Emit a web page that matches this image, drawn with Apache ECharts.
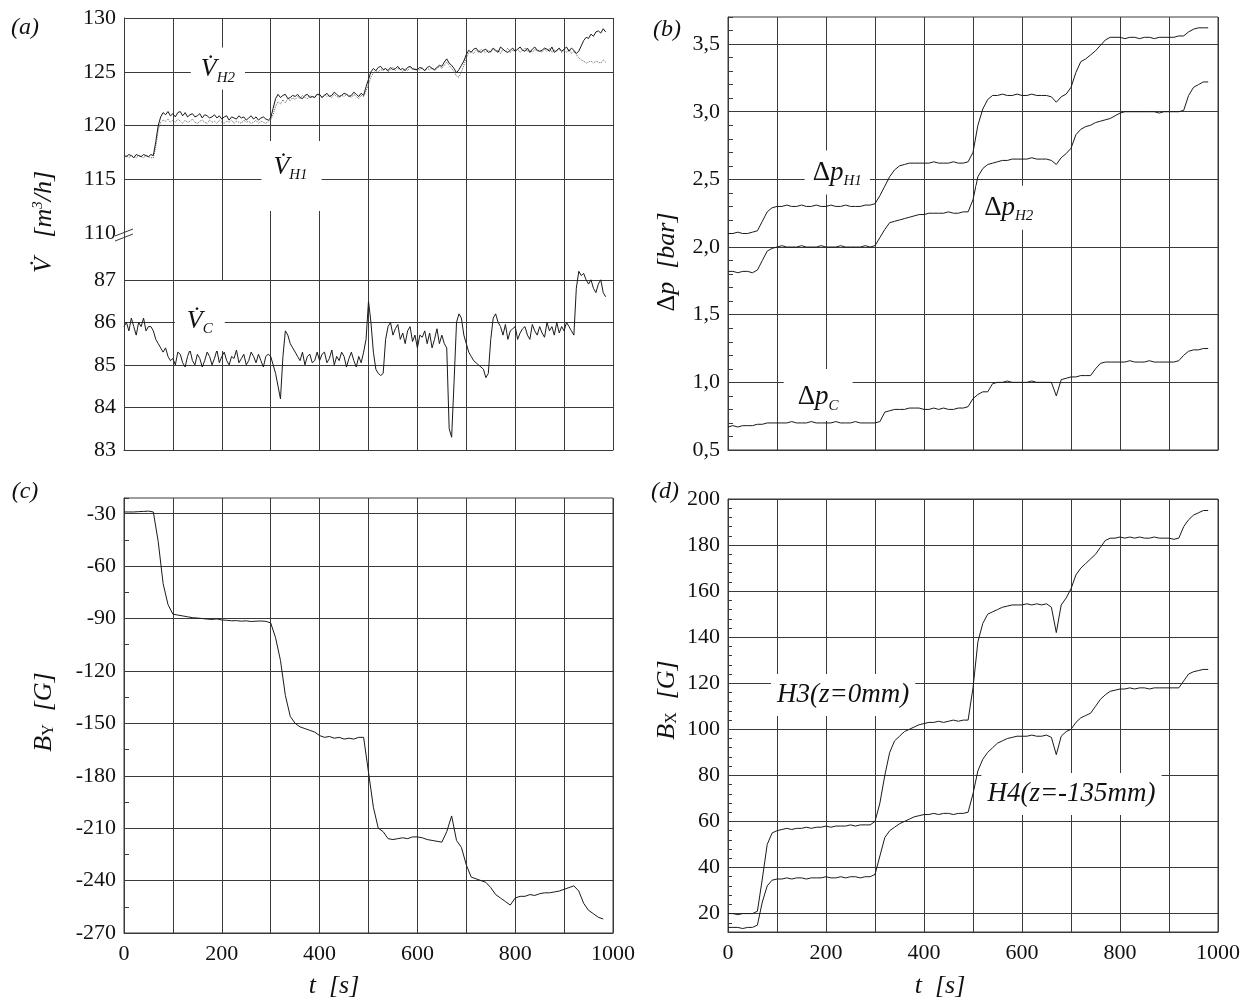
<!DOCTYPE html>
<html>
<head>
<meta charset="utf-8">
<script src="https://cdn.jsdelivr.net/npm/echarts@6/dist/echarts.min.js"></script>
<style>
  html, body { margin: 0; background: #fff; }
  #chart { width: 1255px; height: 1005px; }
</style>
</head>
<body>
<div id="chart"></div>
<script>
// sampling times [s]
const T5 = [
  0,5,10,15,20,25,30,35,40,45,50,55,60,65,70,75,80,85,90,95,
  100,105,110,115,120,125,130,135,140,145,150,155,160,165,170,175,180,185,190,195,
  200,205,210,215,220,225,230,235,240,245,250,255,260,265,270,275,280,285,290,295,
  300,305,310,315,320,325,330,335,340,345,350,355,360,365,370,375,380,385,390,395,
  400,405,410,415,420,425,430,435,440,445,450,455,460,465,470,475,480,485,490,495,
  500,505,510,515,520,525,530,535,540,545,550,555,560,565,570,575,580,585,590,595,
  600,605,610,615,620,625,630,635,640,645,650,655,660,665,670,675,680,685,690,695,
  700,705,710,715,720,725,730,735,740,745,750,755,760,765,770,775,780,785,790,795,
  800,805,810,815,820,825,830,835,840,845,850,855,860,865,870,875,880,885,890,895,
  900,905,910,915,920,925,930,935,940,945,950,955,960,965,970,975,980,985
]
const T10 = [
  0,10,20,30,40,50,60,70,80,90,
  100,110,120,130,140,150,160,170,180,190,
  200,210,220,230,240,250,260,270,280,290,
  300,310,320,330,340,350,360,370,380,390,
  400,410,420,430,440,450,460,470,480,490,
  500,510,520,530,540,550,560,570,580,590,
  600,610,620,630,640,650,660,670,680,690,
  700,710,720,730,740,750,760,770,780,790,
  800,810,820,830,840,850,860,870,880,890,
  900,910,920,930,940,950,960,970,980
]

// (a) volume flow [m3/h]
const flowH2 = [
  117.2,117.1,117.3,117.2,117.0,117.3,117.2,117.1,117.3,117.2,117.1,117.3,117.2,118.5,120.0,120.8,121.2,121.0,121.3,120.9,
  121.1,120.8,121.2,121.3,120.9,121.2,120.8,121.0,121.1,120.8,120.9,121.1,120.7,121.0,120.9,120.7,120.8,121.0,120.7,120.9,
  120.6,120.8,120.9,120.5,120.8,120.7,120.6,120.9,120.7,120.8,120.5,120.7,120.9,120.6,120.8,120.5,120.7,120.8,120.6,120.5,
  120.7,121.6,122.5,122.9,122.6,122.8,122.9,122.5,122.6,122.8,122.7,122.9,122.6,122.5,122.8,122.9,122.6,122.7,122.6,122.9,
  122.9,122.6,122.8,123.0,122.7,122.8,123.1,122.9,122.7,122.8,123.0,122.9,122.7,122.8,123.1,122.9,122.7,123.0,122.8,123.6,
  124.3,125.0,125.3,125.1,125.4,125.5,125.2,125.3,125.1,125.4,125.2,125.3,125.5,125.2,125.3,125.1,125.4,125.5,125.3,125.2,
  125.2,125.4,125.3,125.1,125.4,125.5,125.3,125.2,125.4,125.6,125.5,125.9,126.2,125.8,125.6,125.3,124.9,125.2,125.6,126.0,
  126.6,127.0,126.8,127.1,127.2,126.9,126.8,127.0,127.1,126.8,126.9,127.2,127.0,126.8,127.3,127.1,126.9,126.8,127.0,127.2,
  126.9,127.1,127.3,127.0,126.9,127.2,126.8,127.1,127.3,127.0,126.9,127.0,127.2,127.1,126.9,127.3,126.8,127.0,127.2,126.9,
  127.1,127.3,126.9,127.2,127.0,126.7,126.9,127.4,127.9,128.2,128.1,128.5,128.3,128.7,128.8,128.6,129.0,128.7
]
const flowH1 = [
  117.1,117.2,117.0,117.2,117.1,117.0,117.2,117.1,117.0,117.2,117.1,117.0,117.0,118.0,119.6,120.3,120.5,120.4,120.6,120.3,
  120.5,120.3,120.6,120.4,120.2,120.5,120.3,120.4,120.6,120.3,120.2,120.4,120.5,120.3,120.2,120.5,120.3,120.4,120.2,120.5,
  120.3,120.2,120.4,120.3,120.5,120.2,120.4,120.3,120.2,120.5,120.3,120.4,120.2,120.3,120.5,120.2,120.4,120.3,120.2,120.4,
  120.5,121.0,121.8,122.2,122.0,122.4,122.1,122.5,122.3,122.6,122.4,122.7,122.5,122.8,122.6,122.5,122.8,122.6,122.7,122.9,
  122.7,122.6,122.9,122.7,122.8,122.6,122.9,122.7,122.6,122.8,122.7,122.9,122.8,122.6,122.9,122.7,122.5,122.8,122.7,123.2,
  123.8,124.5,124.9,125.1,125.0,125.2,125.1,125.3,125.0,125.2,125.4,125.1,125.3,125.2,125.0,125.3,125.1,125.4,125.2,125.3,
  125.1,125.2,125.4,125.1,125.3,125.2,125.4,125.1,125.3,125.5,125.3,125.6,125.9,125.6,125.3,125.0,124.6,124.5,125.0,125.6,
  126.3,126.7,126.9,126.7,127.0,126.8,127.1,126.9,126.8,127.0,126.8,127.1,126.9,127.0,126.7,127.1,126.9,127.2,126.8,127.0,
  126.9,127.1,126.8,127.0,127.2,126.9,127.0,126.8,127.1,126.9,127.0,126.8,127.1,126.9,127.2,126.8,127.0,126.9,127.1,126.8,
  127.0,126.8,127.1,126.7,126.9,126.6,126.3,126.1,126.0,125.8,125.9,126.0,125.8,126.0,125.9,125.8,126.1,125.9
]
const flowC = [
  85.9,86.0,85.8,86.1,85.9,85.7,86.0,85.9,86.1,85.8,85.9,85.9,85.8,85.6,85.5,85.4,85.3,85.4,85.2,85.1,
  85.15,85.0,85.3,85.25,85.05,84.95,85.2,85.35,85.1,85.0,85.25,85.15,84.95,85.1,85.3,85.2,85.0,85.15,85.35,85.05,
  85.2,85.3,85.1,85.0,85.2,85.15,85.35,85.05,85.15,85.25,85.0,85.1,85.3,85.2,85.05,85.25,85.1,84.95,85.2,85.25,
  85.2,85.0,84.8,84.5,84.2,85.2,85.8,85.7,85.5,85.4,85.3,85.2,85.1,85.3,85.0,85.2,85.25,85.05,85.1,85.3,
  85.1,85.25,85.3,85.05,85.15,85.35,85.0,85.2,85.1,85.3,85.2,84.95,85.15,85.3,85.1,84.95,85.2,85.05,85.3,85.6,
  86.5,86.0,85.3,84.9,84.8,84.75,84.8,85.6,85.9,86.0,85.7,85.85,85.95,85.6,85.75,85.5,85.8,85.9,85.55,85.7,
  85.4,85.7,85.65,85.8,85.5,85.75,85.4,85.6,85.85,85.5,85.7,85.5,85.4,83.5,83.3,84.6,86.0,86.2,86.1,85.7,
  85.5,85.3,85.2,85.1,85.05,85.0,84.95,84.9,84.7,84.8,85.6,86.1,86.2,86.0,85.9,85.7,85.95,85.6,85.8,85.85,
  85.9,85.6,85.75,85.85,85.9,85.7,85.6,85.95,85.8,85.7,85.9,85.75,85.65,86.0,85.8,85.9,85.7,86.0,85.75,85.9,
  85.8,86.0,85.9,85.8,85.7,86.8,87.2,87.1,87.15,87.0,86.9,87.0,86.8,86.7,86.9,87.0,86.7,86.6
]

// (b) pressure drop [bar]
const dpH1 = [
  2.10,2.10,2.11,2.10,2.10,2.11,2.12,2.19,2.26,2.29,
  2.30,2.30,2.31,2.30,2.30,2.31,2.30,2.30,2.31,2.30,
  2.30,2.31,2.30,2.30,2.31,2.30,2.30,2.30,2.31,2.31,
  2.32,2.38,2.45,2.52,2.57,2.60,2.61,2.62,2.62,2.62,
  2.62,2.62,2.63,2.62,2.62,2.62,2.63,2.62,2.62,2.63,
  2.70,2.90,3.02,3.09,3.12,3.12,3.13,3.12,3.12,3.13,
  3.12,3.12,3.13,3.12,3.12,3.12,3.11,3.07,3.11,3.13,
  3.18,3.29,3.37,3.39,3.42,3.45,3.49,3.53,3.55,3.55,
  3.55,3.54,3.55,3.55,3.54,3.55,3.55,3.54,3.55,3.55,
  3.55,3.55,3.56,3.56,3.59,3.61,3.62,3.62,3.62
]
const dpH2 = [
  1.82,1.82,1.81,1.82,1.82,1.81,1.83,1.90,1.97,1.99,
  2.00,2.01,2.00,2.00,2.00,2.01,2.00,2.00,2.00,2.01,
  2.00,2.00,2.00,2.01,2.00,2.00,2.00,2.00,2.01,2.00,
  2.01,2.07,2.13,2.18,2.19,2.20,2.21,2.22,2.23,2.24,
  2.24,2.25,2.25,2.25,2.25,2.26,2.25,2.25,2.26,2.26,
  2.35,2.52,2.58,2.61,2.62,2.63,2.64,2.64,2.65,2.65,
  2.65,2.65,2.66,2.65,2.65,2.65,2.64,2.61,2.66,2.69,
  2.73,2.83,2.87,2.89,2.90,2.92,2.93,2.94,2.95,2.97,
  2.99,3.00,3.00,3.00,3.00,3.00,3.00,3.00,2.99,3.00,
  3.00,3.00,3.00,3.01,3.12,3.18,3.20,3.22,3.22
]
const dpC = [
  0.67,0.68,0.67,0.68,0.68,0.68,0.69,0.69,0.70,0.70,
  0.70,0.70,0.70,0.71,0.70,0.70,0.70,0.71,0.70,0.70,
  0.70,0.70,0.71,0.70,0.70,0.70,0.71,0.70,0.70,0.70,
  0.70,0.71,0.78,0.79,0.80,0.80,0.80,0.81,0.81,0.81,
  0.80,0.80,0.81,0.80,0.81,0.80,0.80,0.81,0.81,0.82,
  0.88,0.91,0.93,0.93,0.99,1.00,1.00,1.01,1.00,1.00,
  1.00,1.00,1.01,1.00,1.00,1.00,1.00,0.90,1.02,1.03,
  1.04,1.04,1.05,1.05,1.05,1.10,1.14,1.15,1.15,1.15,
  1.15,1.15,1.16,1.15,1.15,1.15,1.16,1.15,1.15,1.15,
  1.15,1.15,1.16,1.20,1.23,1.24,1.24,1.25,1.25
]

// (c) B_Y [G]
const fieldY = [
  -29,-29,-29,-28.8,-28.7,-28.5,-29,-46,-70,-82,
  -87.5,-88,-88.5,-89,-89.5,-89.7,-90,-90.3,-90.5,-90.2,
  -90.8,-91,-91.3,-91.2,-91.5,-91.3,-91.7,-91.5,-91.4,-91.6,
  -92.5,-101,-114,-134,-146,-150,-152,-153,-154,-155,
  -157,-158,-157.5,-158.5,-158,-159,-158.5,-159,-158,-158,
  -178,-198,-210,-212,-216,-216.5,-216,-215.5,-216,-215,
  -215,-215.5,-216.5,-217,-217.5,-218,-212,-203,-217,-221,
  -231,-238,-239,-240,-241,-244,-248,-250,-252,-254,
  -250,-249,-249,-248,-248.5,-247.5,-247,-247,-246.5,-246,
  -245,-244,-243,-246,-253,-257,-259,-261,-262
]

// (d) B_X [G]
const fieldH3 = [
  20,20,19.5,20,20,20,21,35,50,55,
  56,56.5,57,56.5,57,57,57.5,57,57.5,57.5,
  58,57.5,58,58,58,58.5,58,58.5,58.5,58.5,
  60,68,80,90,95,97,99,100,101,102,
  102.5,103,103,103.5,103,103.5,104,103.5,104,104,
  118,138,146,150,151,152,153,153.5,154,154,
  154,154.5,154,154.5,154,154.5,153,142,154,157,
  161,167,170,172,174,176,179,182,183,183,
  183.5,183,183.5,183,183.5,183,183,183.5,183,183,
  183,182.5,183,188,191,193,194,195,195
]
const fieldH4 = [
  14,14,14,13.5,14,14,15,25,32,34.5,
  35,35,35.5,35,35.5,35.5,35,35.5,35.5,35.5,
  36,35.5,35.5,36,35.5,36,36,35.5,36,36,
  37,45,53,56,57.5,59,60,61,62,62.5,
  63,63,63.5,63,63.5,63.5,63,63.5,63.5,64,
  72,82,87,90,92,94,95,96,96.5,97,
  97,97,97.5,97,97,97.5,96.5,89,97,99,
  100,103,105,106,107,110,113,115,116.5,117,
  117.5,117.5,118,117.5,118,118,117.5,118,118,118,
  118,118,118,121,124,125,125.5,126,126
]

const SERIF = "'Liberation Serif', 'DejaVu Serif', serif"
const G = '#3a3a3a'
const T = 'rgba(0,0,0,0)'
const INK = '#111'

const pair = (ts, vs) => ts.map((t, i) => [t, vs[i]])

const tickLabel = { fontFamily: SERIF, fontSize: 22, color: INK, margin: 8 }
const innerTick = len => ({ show: true, inside: true, length: len, lineStyle: { color: G } })

function xAxisFor (gridIndex, withLabels, withLine) {
  return {
    type: 'value', gridIndex, min: 0, max: 1000, interval: 100,
    axisLine: { show: withLine, lineStyle: { color: G } },
    axisTick: { show: false },
    axisLabel: { ...tickLabel, show: withLabels, margin: 10, formatter: v => (v % 200 === 0 ? String(v) : '') },
    splitLine: { show: true, lineStyle: { color: G, width: 1 } }
  }
}

// rich text pieces for annotations
const ann = {
  v: { fontFamily: SERIF, fontStyle: 'italic', fontSize: 26, lineHeight: 32, color: INK },
  d: { fontFamily: SERIF, fontSize: 27, lineHeight: 32, color: INK },
  p: { fontFamily: SERIF, fontStyle: 'italic', fontSize: 27, lineHeight: 32, color: INK },
  s: { fontFamily: SERIF, fontStyle: 'italic', fontSize: 15, lineHeight: 18, verticalAlign: 'bottom', color: INK },
  h: { fontFamily: SERIF, fontStyle: 'italic', fontSize: 27, lineHeight: 32, color: INK }
}

function note (coord, text, padding) {
  return {
    coord,
    label: { show: true, position: 'inside', formatter: text, backgroundColor: '#fff', padding, rich: ann }
  }
}

function markNotes (list) {
  return {
    symbol: 'rect', symbolSize: 1, silent: true, animation: false,
    itemStyle: { color: T },
    data: list
  }
}

function lineSeries (name, xi, data, extra) {
  return Object.assign({
    name, type: 'line', xAxisIndex: xi, yAxisIndex: xi, data,
    showSymbol: false, symbol: 'none', animation: false,
    lineStyle: { color: '#1a1a1a', width: 1 }
  }, extra || {})
}

const chart = echarts.init(document.getElementById('chart'))

const nameRich = {
  i: { fontFamily: SERIF, fontStyle: 'italic', fontSize: 26, fill: INK },
  u: { fontFamily: SERIF, fontSize: 26, fill: INK },
  s: { fontFamily: SERIF, fontSize: 16, fill: INK, verticalAlign: 'bottom', lineHeight: 20 },
  t: { fontFamily: SERIF, fontStyle: 'italic', fontSize: 15, fill: INK, verticalAlign: 'top', lineHeight: 16 }
}
function textEl (x, y, text, rotation) {
  return {
    type: 'text', x, y, rotation: rotation || 0, z: 10,
    style: { text, rich: nameRich, align: 'center', verticalAlign: 'middle', fill: INK,
             font: `italic 24px ${SERIF}` }
  }
}

chart.setOption({
  animation: false,
  backgroundColor: '#fff',
  grid: [
    { left: 124, right: 642, top: 18, height: 215 },
    { left: 124, right: 642, top: 233, height: 217 },
    { left: 728, right: 37, top: 17, height: 433, show: true, borderColor: G, borderWidth: 1 },
    { left: 124, right: 642, top: 498, height: 435, show: true, borderColor: G, borderWidth: 1 },
    { left: 728, right: 37, top: 499, height: 433, show: true, borderColor: G, borderWidth: 1 }
  ],
  xAxis: [
    xAxisFor(0, false, false),
    xAxisFor(1, false, true),
    xAxisFor(2, false, true),
    xAxisFor(3, true, true),
    xAxisFor(4, true, true)
  ],
  yAxis: [
    {
      type: 'value', gridIndex: 0, min: 110, max: 130, interval: 5,
      axisLine: { show: true, lineStyle: { color: G } }, axisTick: { show: false },
      axisLabel: { ...tickLabel },
      splitLine: { show: true, lineStyle: { color: [T, G, G, G, G] } }
    },
    {
      type: 'value', gridIndex: 1, min: 83, max: 88.1, interval: 1,
      axisLine: { show: true, lineStyle: { color: G } }, axisTick: { show: false },
      axisLabel: { ...tickLabel, formatter: v => (v <= 87 && Number.isInteger(v) ? String(v) : '') },
      splitLine: { show: true, lineStyle: { color: [G, G, G, G, G, T, T] } }
    },
    {
      type: 'value', gridIndex: 2, min: 0.5, max: 3.7, interval: 0.1,
      axisLine: { show: true, lineStyle: { color: G } }, axisTick: innerTick(5),
      axisLabel: {
        ...tickLabel,
        formatter: v => {
          const k = Math.round(v * 10)
          return k % 5 === 0 ? (k / 10).toFixed(1).replace('.', ',') : ''
        }
      },
      splitLine: { show: true, lineStyle: { color: [G, T, T, T, T] } }
    },
    {
      type: 'value', gridIndex: 3, min: -270, max: -21, interval: 15,
      axisLine: { show: true, lineStyle: { color: G } }, axisTick: innerTick(5),
      axisLabel: { ...tickLabel, formatter: v => (v % 30 === 0 ? String(v) : '') },
      splitLine: { show: true, lineStyle: { color: [G, T] } }
    },
    {
      type: 'value', gridIndex: 4, min: 12, max: 200, interval: 4,
      axisLine: { show: true, lineStyle: { color: G } }, axisTick: innerTick(4),
      axisLabel: { ...tickLabel, formatter: v => (v % 20 === 0 ? String(v) : '') },
      splitLine: { show: true, lineStyle: { color: [T, T, G, T, T] } }
    }
  ],
  series: [
    lineSeries('V_H1', 0, pair(T5, flowH1), {
      lineStyle: { color: '#666', width: 1, type: 'dotted' }
    }),
    lineSeries('V_H2', 0, pair(T5, flowH2), {
      markPoint: markNotes([
        note([192, 125.3], '{v|V̇}{s|H2}', [6, 10, 4, 10]),
        note([342.5, 115.3], '{v|V̇}{s|H1}', [10, 14, 28, 12])
      ])
    }),
    lineSeries('V_C', 1, pair(T5, flowC), {
      markPoint: markNotes([note([155, 86.15], '{v|V̇}{s|C}', [24, 12, 14, 12])])
    }),
    lineSeries('dp_H1', 2, pair(T10, dpH1), {
      markPoint: markNotes([
        note([223, 2.55], '{d|Δ}{p|p}{s|H1}', [6, 8, 6, 8]),
        note([573, 2.29], '{d|Δ}{p|p}{s|H2}', [6, 8, 6, 8])
      ])
    }),
    lineSeries('dp_H2', 2, pair(T10, dpH2)),
    lineSeries('dp_C', 2, pair(T10, dpC), {
      markPoint: markNotes([note([184, 0.906], '{d|Δ}{p|p}{s|C}', [12, 14, 8, 14])])
    }),
    lineSeries('B_Y', 3, pair(T10, fieldY)),
    lineSeries('H3', 4, pair(T10, fieldH3), {
      markPoint: markNotes([
        note([235, 114.9], '{h|H3(z=0mm)}', [5, 6, 5, 6]),
        note([701, 71.9], '{h|H4(z=-135mm)}', [5, 6, 5, 6])
      ])
    }),
    lineSeries('H4', 4, pair(T10, fieldH4))
  ],
  graphic: [
    textEl(25, 28, '(a)'),
    textEl(667, 30, '(b)'),
    textEl(25, 492, '(c)'),
    textEl(665, 492, '(d)'),
    textEl(44, 222, '{i|V̇}{i|   [m}{t|3}{i|/h]}', Math.PI / 2),
    textEl(667, 262, '{u|Δ}{i|p  [bar]}', Math.PI / 2),
    textEl(44, 712, '{i|B}{s|Y}{i|  [G]}', Math.PI / 2),
    textEl(667, 700, '{i|B}{s|X}{i|  [G]}', Math.PI / 2),
    textEl(334, 986, '{i|t  [s]}'),
    textEl(940, 986, '{i|t  [s]}'),
    { type: 'line', z: 10, shape: { x1: 115, y1: 236, x2: 133, y2: 229 }, style: { stroke: G, lineWidth: 1 } },
    { type: 'line', z: 10, shape: { x1: 115, y1: 241, x2: 133, y2: 234 }, style: { stroke: G, lineWidth: 1 } }
  ]
})
</script>
</body>
</html>
